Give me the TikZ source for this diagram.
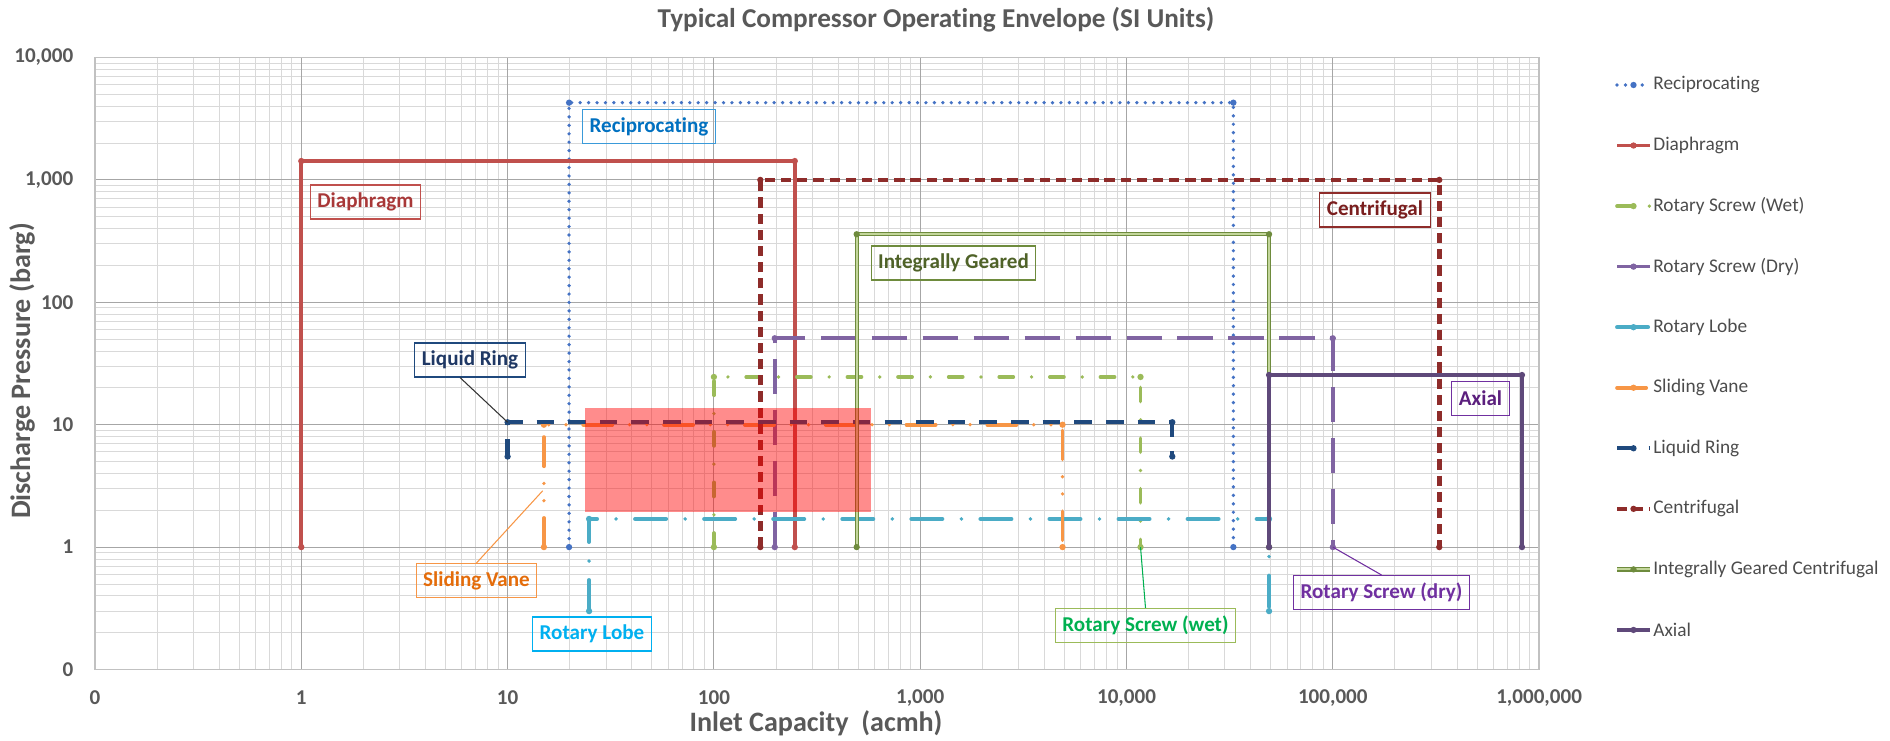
\documentclass[tikz,border=0pt]{standalone}
\usepackage{fontspec}
\setmainfont{Carlito}[Ligatures=NoCommon]
\usetikzlibrary{calc}

\definecolor{gridminor}{HTML}{D9D9D9}
\definecolor{gridmajor}{HTML}{A6A6A6}
\definecolor{textgray}{HTML}{595959}
\definecolor{recipcol}{HTML}{4472C4}
\definecolor{reciptext}{HTML}{0070C0}
\definecolor{recipbox}{HTML}{3A9AD9}
\definecolor{diaphcol}{HTML}{C0504D}
\definecolor{diaphtext}{HTML}{A83838}
\definecolor{wetcol}{HTML}{9BBB59}
\definecolor{wettext}{HTML}{00B050}
\definecolor{drycol}{HTML}{8064A2}
\definecolor{drytext}{HTML}{7030A0}
\definecolor{lobecol}{HTML}{4BACC6}
\definecolor{lobetext}{HTML}{00B0F0}
\definecolor{vanecol}{HTML}{F79646}
\definecolor{vanetext}{HTML}{E46C0A}
\definecolor{lringcol}{HTML}{1F497D}
\definecolor{lringtext}{HTML}{1F3864}
\definecolor{centrcol}{HTML}{8E2C2A}
\definecolor{centrtext}{HTML}{7A1E1E}
\definecolor{igcol}{HTML}{6E8B3D}
\definecolor{igfill}{HTML}{C3D69B}
\definecolor{igtext}{HTML}{4F6228}
\definecolor{axialcol}{HTML}{5F497A}
\definecolor{axialtext}{HTML}{5B1F7D}

\tikzset{
  minorgrid/.style={draw=gridminor, line width=0.5pt},
  majorgrid/.style={draw=gridmajor, line width=0.6pt},
  ticklab/.style={text=textgray, font=\fontsize{12}{14}\selectfont\bfseries, inner sep=0pt},
  axtitle/.style={text=textgray, font=\fontsize{16}{19}\selectfont\bfseries},
  legtext/.style={text=black!70, font=\fontsize{11}{13}\selectfont, anchor=west, inner sep=0pt},
  tag/.style={line width=0.6pt, inner xsep=4pt, inner ysep=0pt, minimum height=0.68cm,
    font=\fontsize{12}{14}\selectfont\bfseries},
  leader/.style={line width=0.6pt},
  recip/.style={draw=recipcol, line width=2.1pt, line cap=round, dash pattern=on 0pt off 4.8pt},
  diaph/.style={draw=diaphcol, line width=2.2pt},
  wet/.style={draw=wetcol, line width=2.1pt, line cap=round, dash pattern=on 8pt off 10.4pt on 0pt off 10.4pt},
  dry/.style={draw=drycol, line width=2.1pt, dash pattern=on 20pt off 9pt},
  lobe/.style={draw=lobecol, line width=2.2pt, line cap=round, dash pattern=on 17.7pt off 10.8pt on 0pt off 10.8pt},
  vane/.style={draw=vanecol, line width=2.1pt, line cap=round,
    dash pattern=on 16.6pt off 9.8pt on 0pt off 9.8pt on 0pt off 9.8pt},
  lring/.style={draw=lringcol, line width=2.4pt, dash pattern=on 10pt off 8pt},
  centr/.style={draw=centrcol, line width=2.6pt, dash pattern=on 5.8pt off 3.4pt},
  igc/.style={draw=igcol, double=igfill, double distance=1.1pt, line width=0.65pt},
  axial/.style={draw=axialcol, line width=2.1pt},
}

% #1 name, #2 line style, #3 marker colour, #4/#5 log10 acmh, #6/#7 log10 barg
\newcommand{\envelope}[7]{%
  \coordinate (#1a) at (#4+1,#6+1);
  \coordinate (#1b) at (#4+1,#7+1);
  \coordinate (#1c) at (#5+1,#7+1);
  \coordinate (#1d) at (#5+1,#6+1);
  \draw[#2] (#1a) -- (#1b) -- (#1c) -- (#1d);
  \foreach \q in {a,b,c,d} \fill[#3] (#1\q) circle (1.8pt);
}

\begin{document}
\begin{tikzpicture}
\useasboundingbox (0,0) rectangle (37.8,14.8);

\node[text=textgray, font=\fontsize{15.5}{18}\selectfont\bfseries] (title) at (18.72,14.4)
  {Typical Compressor Operating Envelope (SI Units)};

\begin{scope}[shift={(1.9,1.41)}, x=4.126cm, y=2.448cm]
  % grid
  \foreach \d in {0,...,6}
    \foreach \k in {2,...,9}
      \draw[minorgrid] ({\d+log10(\k)},0) -- ({\d+log10(\k)},5);
  \foreach \d in {0,...,4}
    \foreach \k in {2,...,9}
      \draw[minorgrid] (0,{\d+log10(\k)}) -- (7,{\d+log10(\k)});
  \foreach \d in {1,...,6} \draw[majorgrid] (\d,0) -- (\d,5);
  \foreach \d in {1,...,4} \draw[majorgrid] (0,\d) -- (7,\d);
  \draw[draw=gridmajor!70, line width=1pt] (0,0) rectangle (7,5);

  \foreach \d/\t in {0/0,1/1,2/10,3/100,4/{1,000},5/{10,000}}
    \node[ticklab, anchor=east] (yt\d) at (-0.104,\d) {\t};
  \foreach \d/\t in {0/0,1/1,2/10,3/100,4/{1,000},5/{10,000},6/{100,000},7/{1,000,000}}
    \node[ticklab] (xt\d) at (\d,-0.233) {\t};

  % envelopes
  \envelope{recip}{recip}{recipcol}{1.298}{4.518}{0}{3.631}
  \envelope{diaph}{diaph}{diaphcol}{0}{2.392}{0}{3.154}
  \envelope{wet}{wet}{wetcol}{2}{4.068}{0}{1.39}
  \envelope{dry}{dry}{drycol}{2.295}{5}{0}{1.706}
  \envelope{lobe}{lobe}{lobecol}{1.395}{4.691}{-0.523}{0.23}
  \envelope{vane}{vane}{vanecol}{1.176}{3.69}{0}{1}
  \envelope{lring}{lring}{lringcol}{1}{4.222}{0.74}{1.02}
  \envelope{centr}{centr}{centrcol}{2.225}{5.516}{0}{3}
  \envelope{ig}{igc}{igcol}{2.692}{4.691}{0}{2.556}
  \envelope{axial}{axial}{axialcol}{4.691}{5.917}{0}{1.406}
  \coordinate (vanetip) at (2.17,1.46);

  \fill[red, fill opacity=0.45] (2.375,1.29) rectangle (3.762,2.137);
\end{scope}

\node[axtitle, rotate=90] (ytitle) at (0.44,7.38) {Discharge Pressure (barg)};
\node[axtitle] (xtitle) at (16.32,0.34) {Inlet Capacity\ \ (acmh)};

% labels
\node[tag, draw=recipbox, text=reciptext] (reciplab) at (12.98,12.27) {Reciprocating};
\node[tag, draw=diaphcol, text=diaphtext] (diaphlab) at (7.31,10.76) {Diaphragm};
\node[tag, draw=igcol, text=igtext] (iglab) at (19.07,9.54) {Integrally Geared};
\node[tag, draw=centrcol, text=centrtext] (centrlab) at (27.5,10.6) {Centrifugal};
\node[tag, draw=lringcol, text=lringtext] (lringlab) at (9.4,7.6) {Liquid Ring};
\node[tag, draw=drytext, text=axialtext] (axiallab) at (29.61,6.83) {Axial};
\node[tag, draw=vanecol, text=vanetext] (vanelab) at (9.53,3.19) {Sliding Vane};
\node[tag, draw=lobetext, text=lobetext] (lobelab) at (11.84,2.12) {Rotary Lobe};
\node[tag, draw=wetcol, text=wettext] (wetlab) at (22.91,2.29) {Rotary Screw (wet)};
\node[tag, draw=drytext, text=drytext] (drylab) at (27.63,2.95) {Rotary Screw (dry)};

\draw[leader, draw=black!80] ($(lringlab.south)+(-0.2,0)$) -- (lringb);
\draw[leader, draw=vanecol] (vanelab.north) -- (vanetip);
\draw[leader, draw=wettext] (wetlab.north) -- (wetd);
\draw[leader, draw=drytext] (drylab.north) -- (dryd);

% legend
\foreach \s/\c/\t [count=\i from 0] in {recip/recipcol/Reciprocating, diaph/diaphcol/Diaphragm,
    wet/wetcol/{Rotary Screw (Wet)}, dry/drycol/{Rotary Screw (Dry)}, lobe/lobecol/{Rotary Lobe},
    vane/vanecol/{Sliding Vane}, lring/lringcol/{Liquid Ring}, centr/centrcol/Centrifugal,
    igc/igcol/{Integrally Geared Centrifugal}, axial/axialcol/Axial} {
  \node[legtext] (leg\i) at (33.06,{13.1-\i*1.211}) {\t};
  \draw[\s] ([xshift=-0.72cm]leg\i.west) -- ([xshift=-0.06cm]leg\i.west);
  \fill[\c] ([xshift=-0.39cm]leg\i.west) circle (1.8pt);
}
\end{tikzpicture}
\end{document}
